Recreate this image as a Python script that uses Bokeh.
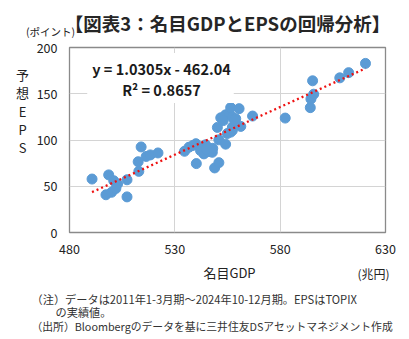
from bokeh.plotting import figure
from bokeh.models import Range1d, Label, FixedTicker
from bokeh.layouts import column, row
from bokeh.embed import file_html
from bokeh.resources import INLINE

# ---- data ----
gdp = [490.7, 498.6, 501.0, 502.8, 497.3, 500.0, 502.0, 507.3, 507.3, 512.9,
       512.6, 514.0, 516.4, 518.4, 522.0,
       534.6, 536.7, 538.5, 540.0, 540.2, 542.2, 543.8, 544.6, 545.4, 546.2,
       547.8, 548.9, 550.9, 550.9, 550.2, 551.8, 554.1, 555.7, 554.1, 554.9,
       556.5, 556.5, 557.3, 557.3, 558.9, 560.5, 561.3, 566.9, 558.4, 557.3,
       553.0, 548.0, 545.0,
       582.4, 594.3, 594.6, 595.9, 595.4, 608.3, 612.5, 620.5]
eps = [57.8, 62.3, 56.0, 52.4, 40.8, 43.5, 47.5, 57.0, 38.5, 66.1,
       76.5, 92.5, 82.2, 83.9, 86.0,
       87.8, 92.2, 94.0, 96.0, 74.5, 88.6, 85.0, 94.8, 92.2, 87.5,
       86.7, 69.8, 75.5, 100.2, 113.6, 124.0, 127.2, 128.5, 95.5, 107.0,
       108.5, 135.0, 124.8, 113.9, 123.0, 133.9, 114.7, 125.9, 121.2, 110.3,
       121.0, 91.0, 90.0,
       123.7, 135.0, 144.3, 149.5, 164.0, 167.2, 172.8, 182.8]
slope = 1.0305
intercept = -462.04
r2 = 0.8657
x_ticks = [480, 530, 580, 630]
y_ticks = [0, 50, 100, 150, 200]

title_text = "【図表3：名目GDPとEPSの回帰分析】"
y_unit = "(ポイント)"
y_label_chars = ["予", "想", "E", "P", "S"]
x_label = "名目GDP"
x_unit = "(兆円)"
notes = ["（注）データは2011年1-3月期～2024年10-12月期。EPSはTOPIX",
         "の実績値。",
         "（出所）Bloombergのデータを基に三井住友DSアセットマネジメント作成"]

FONT = "Noto Sans CJK JP"
W, H = 409, 339
TOP_H = 38            # title strip
BOT_Y = 262           # where bottom text strip starts
LEFT_W = 30           # strip for stacked y label
FL, FR, FT, FB = 69, 385, 47, 232   # chart frame edges in page pixels


def text_fig(w, h):
    f = figure(width=w, height=h, output_backend="svg", toolbar_location=None,
               x_axis_type=None, y_axis_type=None, min_border=0,
               x_range=Range1d(0, w), y_range=Range1d(0, h))
    f.outline_line_color = None
    f.grid.visible = False
    f.background_fill_color = "white"
    f.border_fill_color = "white"
    return f


def lab(f, text, x, y, size, align="left", bold=False, color="#222222",
        baseline="middle", **kw):
    # x, y in pixels from the strip's top-left corner
    f.add_layout(Label(x=x, y=f.height - y, x_units="screen", y_units="screen",
                       text=text, text_font=FONT, text_font_size=size,
                       text_align=align, text_baseline=baseline,
                       text_font_style="bold" if bold else "normal",
                       text_color=color, **kw))


# ---- top strip: title and unit ----
top = text_fig(W, TOP_H)
lab(top, title_text, 227, 22, "18.5px", align="center", bold=True, color="#262626")
lab(top, y_unit, 50, 30.5, "10.5px", align="center")

# ---- left strip: stacked y label ----
mid_h = BOT_Y - TOP_H
left = text_fig(LEFT_W, mid_h)
for i, ch in enumerate(y_label_chars):
    lab(left, ch, 22, 104 + i * 18.3 - TOP_H, "13px", align="center")

# ---- main chart ----
p = figure(width=W - LEFT_W, height=mid_h, output_backend="svg",
           toolbar_location=None,
           x_range=Range1d(480, 630), y_range=Range1d(0, 200),
           min_border_left=FL - LEFT_W, min_border_right=W - FR,
           min_border_top=FT - TOP_H, min_border_bottom=BOT_Y - FB)
p.background_fill_color = "white"
p.border_fill_color = "white"
p.outline_line_color = "#8a8a8a"
p.outline_line_width = 1.3

for ax, ticks in ((p.xaxis[0], x_ticks), (p.yaxis[0], y_ticks)):
    ax.ticker = FixedTicker(ticks=ticks)
    ax.axis_line_color = None
    ax.major_tick_line_color = None
    ax.minor_tick_line_color = None
    ax.major_tick_in = 0
    ax.major_tick_out = 0
    ax.major_label_text_font = FONT
    ax.major_label_text_font_size = "12.5px"
    ax.major_label_text_color = "#222222"
p.xaxis.major_label_standoff = 11
p.yaxis.major_label_standoff = 12

p.xgrid.ticker = FixedTicker(ticks=x_ticks)
p.ygrid.ticker = FixedTicker(ticks=y_ticks)
p.grid.grid_line_color = "#d4d4d4"
p.grid.grid_line_width = 1

p.scatter(gdp, eps, size=10, fill_color="#5b9bd5", line_color="#5b9bd5")

xs = [min(gdp), max(gdp)]
ys = [slope * v + intercept for v in xs]
p.line(xs, ys, line_color="#ee1111", line_width=2.3, line_dash="2 3")

eq_text = f"y = {slope:.4f}x - {abs(intercept):.2f}\nR² = {r2:.4f}"
p.add_layout(Label(x=160 - FL, y=FB - 77.5, x_units="screen", y_units="screen",
                   text=eq_text, text_font=FONT, text_font_size="14.5px",
                   text_font_style="bold", text_color="#1a1a1a",
                   text_align="center", text_baseline="middle",
                   text_line_height=1.0,
                   background_fill_color="white", padding=(5, 3, 5, 3)))

# ---- bottom strip: x label, unit, notes ----
bot = text_fig(W, H - BOT_Y)
lab(bot, x_label, 229, 272 - BOT_Y, "13px", align="center")
lab(bot, x_unit, 373, 273 - BOT_Y, "12px", align="center")
lab(bot, notes[0], 31, 298 - BOT_Y, "11.2px", color="#333333")
lab(bot, notes[1], 55, 311 - BOT_Y, "11.2px", color="#333333")
lab(bot, notes[2], 31, 325 - BOT_Y, "10.8px", color="#333333")

layout = column(top, row(left, p), bot)
open("out.html", "w").write(file_html(layout, INLINE))
